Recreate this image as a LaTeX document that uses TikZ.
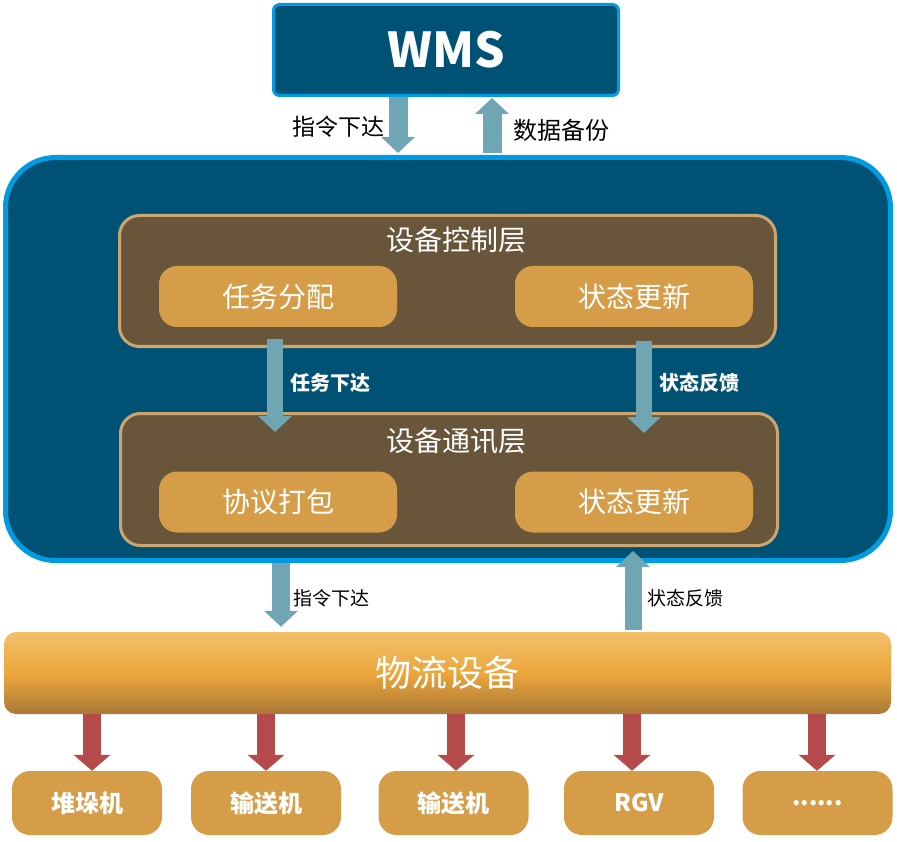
\documentclass[tikz,border=0pt]{standalone}
\usepackage{fontspec}
\setmainfont{Noto Sans CJK SC}
\usepackage{tikz}
\usetikzlibrary{arrows.meta, calc, positioning}
\definecolor{wms-blue}{RGB}{0,82,117}
\definecolor{rim-blue}{RGB}{0,155,225}
\definecolor{layer-brown}{RGB}{105,86,58}
\definecolor{layer-rim}{RGB}{205,165,110}
\definecolor{task-orange}{RGB}{213,157,72}
\definecolor{flow-teal}{RGB}{112,165,180}
\definecolor{flow-red}{RGB}{180,74,74}
\definecolor{bar-top}{RGB}{242,192,105}
\definecolor{bar-mid}{RGB}{236,166,60}
\definecolor{bar-bot}{RGB}{170,122,55}
\tikzset{
    panel/.style = {fill=wms-blue, draw=rim-blue, inner sep=0pt},
    layer/.style = {fill=layer-brown, draw=layer-rim, line width=3pt,
        rounded corners=20pt, inner sep=0pt},
    layertitle/.style = {text=white, font=\fontsize{28}{30}\selectfont},
    task/.style = {fill=task-orange, rounded corners=18pt, text=white,
        font=\fontsize{28}{30}\selectfont, minimum width=238pt,
        minimum height=61pt, inner sep=0pt},
    device/.style = {fill=task-orange, rounded corners=18pt, text=white,
        font=\fontsize{24}{26}\selectfont\bfseries, minimum width=150pt,
        minimum height=64pt, inner sep=0pt},
    tealarrow/.style = {draw=flow-teal, line width=19pt,
        -{Triangle[width=33pt,length=16pt]}},
    redarrow/.style = {draw=flow-red, line width=18pt,
        -{Triangle[width=36pt,length=16pt]}},
    blacklabel/.style = {text=black, font=\fontsize{#1}{#1}\selectfont, inner sep=1pt},
    whitelabel/.style = {text=white, font=\fontsize{20}{20}\selectfont\bfseries, inner sep=1pt},
}

\begin{document}
\begin{tikzpicture}[x=1pt, y=-1pt]
\useasboundingbox (0,0) rectangle (897,842);

% WMS on top
\node[panel, line width=3pt, rounded corners=6pt, minimum width=345pt,
    minimum height=91pt, text=white, font=\fontsize{48}{48}\selectfont\bfseries]
    (wms) at (446,50) {WMS\hspace{10pt}};

% control system
\node[panel, line width=5pt, rounded corners=50pt, minimum width=885pt,
    minimum height=403pt] (wcs) at (448,359) {};

\node[layer, minimum width=656pt, minimum height=131pt] (ctl) at (447.5,281) {};
\node[layertitle] (ctltitle) at (456,240) {设备控制层};
\node[task] (assign) at (278,296.5) {任务分配};
\node[task] (update1) at (634,296.5) {状态更新};

\node[layer, minimum width=657pt, minimum height=132pt] (comm) at (449,479.5) {};
\node[layertitle] (commtitle) at (456,441) {设备通讯层};
\node[task] (pack) at (278,502) {协议打包};
\node[task] (update2) at (634,502) {状态更新};

% logistics equipment
\node[rounded corners=12pt, minimum width=887pt, minimum height=82pt,
    top color=bar-top, bottom color=bar-bot, middle color=bar-mid,
    text=white, font=\fontsize{36}{36}\selectfont, inner sep=0pt]
    (equip) at (447.5,673) {物流设备};

\node[device] (stacker) at (87,803) {堆垛机};
\node[device] (conv1) at (266,803) {输送机};
\node[device] (conv2) at (453.5,803) {输送机};
\node[device] (rgv) at (639,803) {RGV};
\node[device] (more) at (817.5,803) {\raisebox{-5pt}{......}};

% arrow columns
\coordinate (xcmd) at (398,0);
\coordinate (xbak) at (492,0);
\coordinate (xtask) at (275,0);
\coordinate (xfb) at (644,0);
\coordinate (xcmd2) at (281,0);
\coordinate (xfb2) at (633,0);

\draw[tealarrow] (wms.south -| xcmd) -- ([yshift=2pt]wcs.north -| xcmd);
\draw[tealarrow] ([yshift=2pt]wcs.north -| xbak) -- ([yshift=-1pt]wms.south -| xbak);
\node[blacklabel=23, anchor=east] (cmdlbl) at (386,127) {指令下达};
\node[blacklabel=24, anchor=west] (baklbl) at (512,130) {数据备份};

\draw[tealarrow, line width=16pt] ([yshift=9pt]ctl.south -| xtask) -- ([yshift=-20pt]comm.north -| xtask);
\draw[tealarrow, line width=16pt] ([yshift=7pt]ctl.south -| xfb) -- ([yshift=-21pt]comm.north -| xfb);
\node[whitelabel, anchor=west] (tasklbl) at (289,383) {任务下达};
\node[whitelabel, anchor=west] (fblbl) at (658,383) {状态反馈};

\draw[tealarrow, line width=18pt] (wcs.south -| xcmd2) -- ([yshift=5pt]equip.north -| xcmd2);
\draw[tealarrow, line width=17pt] ([yshift=2pt]equip.north -| xfb2) -- ([yshift=12pt]wcs.south -| xfb2);
\node[blacklabel=19, anchor=west] (cmdlbl2) at (292,598) {指令下达};
\node[blacklabel=19, anchor=west] (fblbl2) at (646,598) {状态反馈};

\foreach \dev/\x in {stacker/92, conv1/266, conv2/456, rgv/632, more/817}
    \draw[redarrow] (\x,714) -- (\dev.north -| \x,0);

\end{tikzpicture}
\end{document}
